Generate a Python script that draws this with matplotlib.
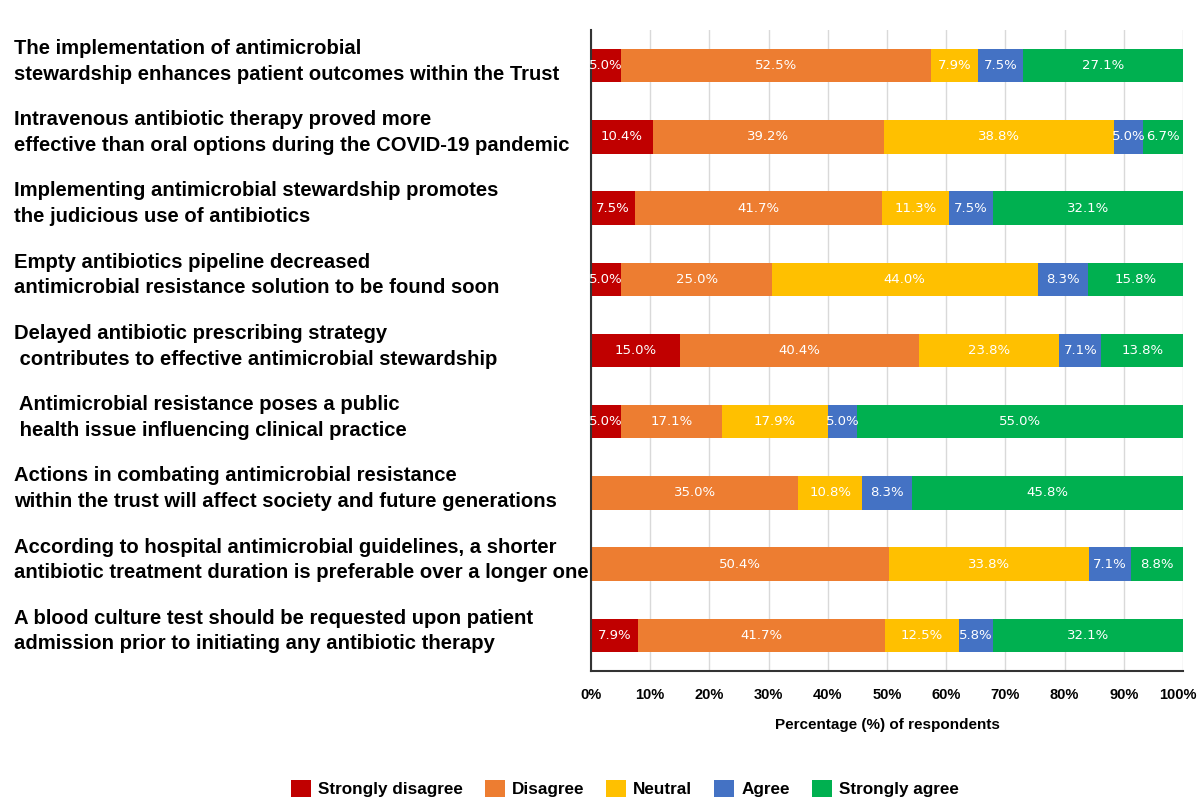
import matplotlib.pyplot as plt
import matplotlib.transforms as mtransforms
import numpy as np

plt.rcParams["font.family"] = ["Liberation Sans", "DejaVu Sans"]

statements = [
    "The implementation of antimicrobial\nstewardship enhances patient outcomes within the Trust",
    "Intravenous antibiotic therapy proved more\neffective than oral options during the COVID-19 pandemic",
    "Implementing antimicrobial stewardship promotes\nthe judicious use of antibiotics",
    "Empty antibiotics pipeline decreased\nantimicrobial resistance solution to be found soon",
    "Delayed antibiotic prescribing strategy\n contributes to effective antimicrobial stewardship",
    " Antimicrobial resistance poses a public\n health issue influencing clinical practice",
    "Actions in combating antimicrobial resistance\nwithin the trust will affect society and future generations",
    "According to hospital antimicrobial guidelines, a shorter\nantibiotic treatment duration is preferable over a longer one",
    "A blood culture test should be requested upon patient\nadmission prior to initiating any antibiotic therapy",
]
levels = ["Strongly disagree", "Disagree", "Neutral", "Agree", "Strongly agree"]
colors = ["#C00000", "#ED7D31", "#FFC000", "#4472C4", "#00B050"]

strongly_disagree = [5.0, 10.4, 7.5, 5.0, 15.0, 5.0, 0.0, 0.0, 7.9]
disagree = [52.5, 39.2, 41.7, 25.0, 40.4, 17.1, 35.0, 50.4, 41.7]
neutral = [7.9, 38.8, 11.3, 44.0, 23.8, 17.9, 10.8, 33.8, 12.5]
agree = [7.5, 5.0, 7.5, 8.3, 7.1, 5.0, 8.3, 7.1, 5.8]
strongly_agree = [27.1, 6.7, 32.1, 15.8, 13.8, 55.0, 45.8, 8.8, 32.1]

values = np.array([strongly_disagree, disagree, neutral, agree, strongly_agree]).T
# 100% stacked: each row scaled to its own total
shares = values / values.sum(axis=1, keepdims=True) * 100

fig = plt.figure(figsize=(11.99, 8.01), dpi=100)
ax = fig.add_axes([591 / 1199, 1 - 671 / 801, 592 / 1199, 641 / 801])

ypos = np.arange(len(statements))
left = np.zeros(len(statements))
for j, (name, color) in enumerate(zip(levels, colors)):
    ax.barh(ypos, shares[:, j], left=left, height=0.47, color=color,
            label=name, linewidth=0, zorder=2)
    for i in ypos:
        if values[i, j] > 0:
            ax.text(left[i] + shares[i, j] / 2, i, f"{values[i, j]:.1f}%",
                    ha="center", va="center", color="white", fontsize=9.5,
                    family="DejaVu Sans", zorder=3)
    left += shares[:, j]

ax.set_xlim(0, 100)
ax.set_ylim(len(statements) - 0.5, -0.5)
ax.set_yticks([])
ax.set_xticks(np.arange(0, 101, 10))
ax.set_xticklabels([f"{t}%" for t in range(0, 101, 10)], fontsize=10.5, fontweight="bold")
ax.tick_params(axis="x", length=0, pad=12)
# nudge the last tick label so it stays inside the canvas
last = ax.get_xticklabels()[-1]
last.set_transform(last.get_transform()
                   + mtransforms.ScaledTranslation(-5 / 100, 0, fig.dpi_scale_trans))
ax.grid(axis="x", color="#d9d9d9", linewidth=1, zorder=0)
ax.set_axisbelow(True)
for side in ("top", "right"):
    ax.spines[side].set_visible(False)
for side in ("left", "bottom"):
    ax.spines[side].set_color("#333333")
    ax.spines[side].set_linewidth(1.5)
ax.set_xlabel("Percentage (%) of respondents", fontsize=11, fontweight="bold", labelpad=12)

# statement labels left-aligned in figure space
trans = mtransforms.blended_transform_factory(fig.transFigure, ax.transData)
for i, text in enumerate(statements):
    ax.text(14 / 1199, i - 0.06, text, transform=trans, ha="left", va="center",
            fontsize=14.6, fontweight="bold", linespacing=1.45, clip_on=False)

handles, labels = ax.get_legend_handles_labels()
fig.legend(handles, labels, loc="lower center", bbox_to_anchor=(0.521, -0.004), ncol=5,
           frameon=False, handlelength=1.17, handleheight=1.17, borderaxespad=0,
           columnspacing=1.3, handletextpad=0.4, prop={"weight": "bold", "size": 12.3})

fig.savefig("out.png", dpi=100)
